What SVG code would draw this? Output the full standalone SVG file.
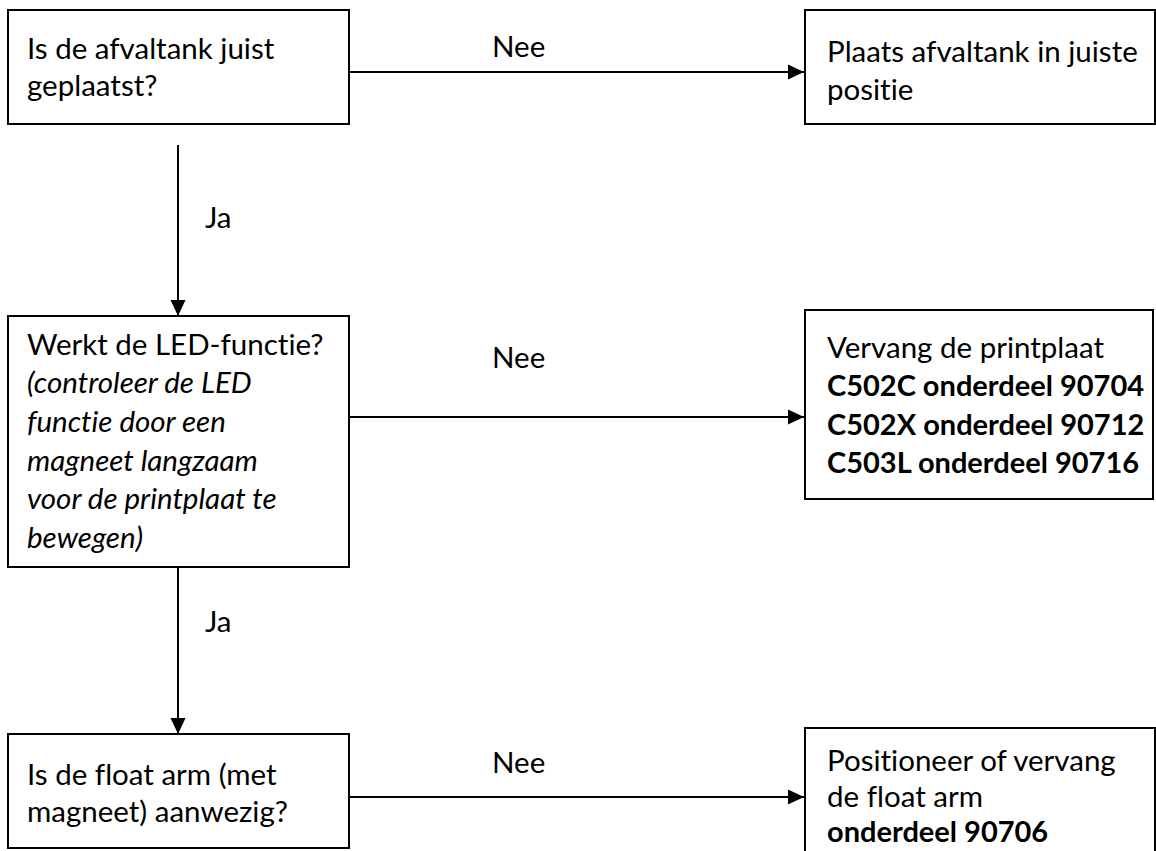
<svg xmlns="http://www.w3.org/2000/svg" width="1156" height="851" viewBox="0 0 1156 851">
<style>
.box{fill:#fff;stroke:#000;stroke-width:2}
.t{font-family:Lato,"Liberation Sans",sans-serif;font-size:29.5px;fill:#000;font-variant-ligatures:none;font-feature-settings:"liga" 0}
.i{font-style:italic}
.b{font-weight:bold;font-size:29px}
.edge{stroke:#000;stroke-width:2;fill:none;marker-end:url(#ah)}
</style>
<defs>
<marker id="ah" markerUnits="userSpaceOnUse" markerWidth="16" markerHeight="16" viewBox="0 0 16 16" refX="16" refY="8" orient="auto">
<path d="M0,0.5 L16,8 L0,15.5 Z" fill="#000"/>
</marker>
</defs>
<rect width="1156" height="851" fill="#fff"/>
<g id="connectors">
<line class="edge" x1="349" y1="72" x2="804" y2="72"/>
<line class="edge" x1="178" y1="145" x2="178" y2="316"/>
<line class="edge" x1="349" y1="417" x2="804" y2="417"/>
<line class="edge" x1="178" y1="567" x2="178" y2="734"/>
<line class="edge" x1="349" y1="797" x2="804" y2="797"/>
<text class="t" x="492" y="57">Nee</text>
<text class="t" x="205" y="228">Ja</text>
<text class="t" x="492" y="368">Nee</text>
<text class="t" x="205" y="632">Ja</text>
<text class="t" x="492" y="773">Nee</text>
</g>
<g id="n1">
<rect class="box" x="8" y="10" width="341" height="114"/>
<text class="t" x="27" y="59">Is de afvaltank juist</text>
<text class="t" x="27" y="96">geplaatst?</text>
</g>
<g id="n2">
<rect class="box" x="805" y="10" width="350" height="114"/>
<text class="t" x="827" y="62">Plaats afvaltank in juiste</text>
<text class="t" x="827" y="100">positie</text>
</g>
<g id="n3">
<rect class="box" x="8" y="316" width="341" height="251"/>
<text class="t" x="27" y="355">Werkt de LED-functie?</text>
<text class="t i" x="27" y="393">(controleer de LED</text>
<text class="t i" x="27" y="432">functie door een</text>
<text class="t i" x="27" y="471">magneet langzaam</text>
<text class="t i" x="27" y="509">voor de printplaat te</text>
<text class="t i" x="27" y="548">bewegen)</text>
</g>
<g id="n4">
<rect class="box" x="805" y="310" width="348" height="189"/>
<text class="t" x="827" y="358">Vervang de printplaat</text>
<text class="t b" x="827" y="396">C502C onderdeel 90704</text>
<text class="t b" x="827" y="435">C502X onderdeel 90712</text>
<text class="t b" x="827" y="473">C503L onderdeel 90716</text>
</g>
<g id="n5">
<rect class="box" x="8" y="734" width="341" height="114"/>
<text class="t" x="27" y="785">Is de float arm (met</text>
<text class="t" x="27" y="822">magneet) aanwezig?</text>
</g>
<g id="n6">
<rect class="box" x="805" y="728" width="350" height="140"/>
<text class="t" x="827" y="771">Positioneer of vervang</text>
<text class="t" x="827" y="807">de float arm</text>
<text class="t b" x="827" y="842">onderdeel 90706</text>
</g>
</svg>
